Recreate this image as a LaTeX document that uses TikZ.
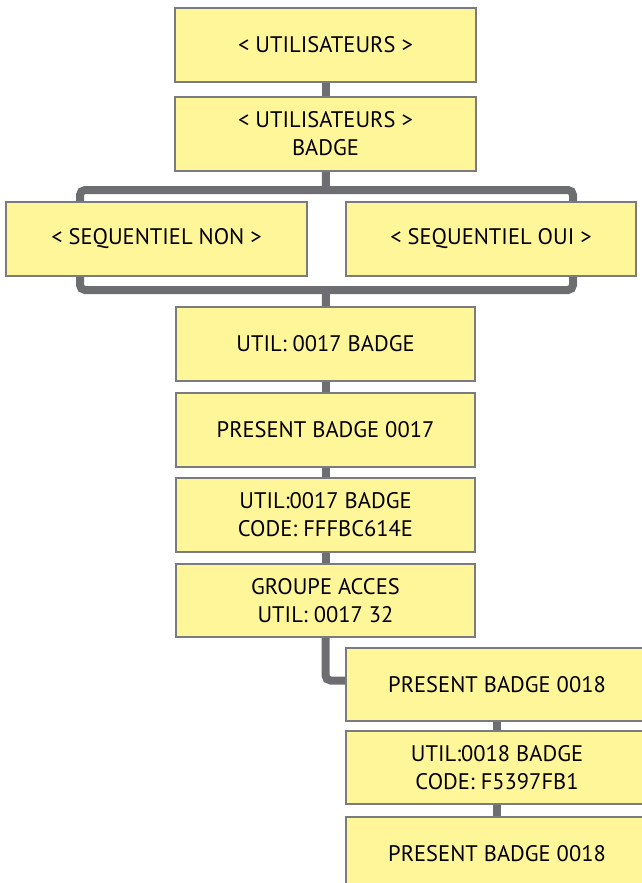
\documentclass[tikz,border=0pt]{standalone}
\usepackage{fontspec}
\setmainfont{PT Sans}
\usetikzlibrary{backgrounds,calc}
\definecolor{boxfill}{HTML}{FFF599}
\definecolor{boxline}{HTML}{7A7B7E}
\definecolor{connline}{HTML}{6D6E71}
\begin{document}
\begin{tikzpicture}[x=1pt,y=-1pt,
  box/.style={draw=boxline,line width=2pt,fill=boxfill,inner sep=0pt,outer sep=0pt,
    minimum width=301pt,minimum height=74pt,align=center,
    font=\fontsize{22.5}{28}\selectfont},
  conn/.style={draw=connline,line width=8pt,rounded corners=5pt}]
\useasboundingbox (0,0) rectangle (642,883);
\node[box] (b1) at (325.5,45) {< UTILISATEURS >};
\node[box] (b2) at (325.5,134) {< UTILISATEURS >\\BADGE};
\node[box] (seqnon) at (156.5,239) {< SEQUENTIEL NON >};
\node[box,minimum width=290pt] (seqoui) at (491,239) {< SEQUENTIEL OUI >};
\node[box,minimum width=299pt] (b3) at (325.5,344) {UTIL: 0017 BADGE};
\node[box,minimum width=299pt] (b4) at (325.5,430) {PRESENT BADGE 0017};
\node[box,minimum width=299pt] (b5) at (325.5,515) {UTIL:0017 BADGE\\CODE: FFFBC614E};
\node[box,minimum width=299pt,minimum height=73pt] (b6) at (325.5,600.5) {GROUPE ACCES\\UTIL: 0017 32};
\node[box,minimum width=302pt,minimum height=73pt] (b7) at (497,684.5) {PRESENT BADGE 0018};
\node[box,minimum width=302pt,minimum height=73pt] (b8) at (497,767.5) {UTIL:0018 BADGE\\CODE: F5397FB1};
\node[box,minimum width=302pt] (b9) at (497,854) {PRESENT BADGE 0018};
\coordinate (topbar) at (326,190);
\coordinate (botbar) at (326,290);
\begin{pgfonlayer}{background}
\draw[conn] (b1.center) -- (b2.center);
\draw[conn] (b2.center) -- (topbar);
\draw[conn] ($(seqnon.north west)+(74,0)$) |- (topbar) -| ($(seqoui.north east)+(-63,0)$);
\draw[conn] ($(seqnon.south west)+(74,0)$) |- (botbar) -| ($(seqoui.south east)+(-63,0)$);
\draw[conn] (botbar) -- (b3.center);
\draw[conn] (b3.center) -- (b4.center);
\draw[conn] (b4.center) -- (b5.center);
\draw[conn] (b5.center) -- (b6.center);
\draw[conn] (b6.center) |- ($(b7.west)+(0,-4)$);
\draw[conn] (b7.center) -- (b8.center);
\draw[conn] (b8.center) -- (b9.center);
\end{pgfonlayer}
\end{tikzpicture}
\end{document}
